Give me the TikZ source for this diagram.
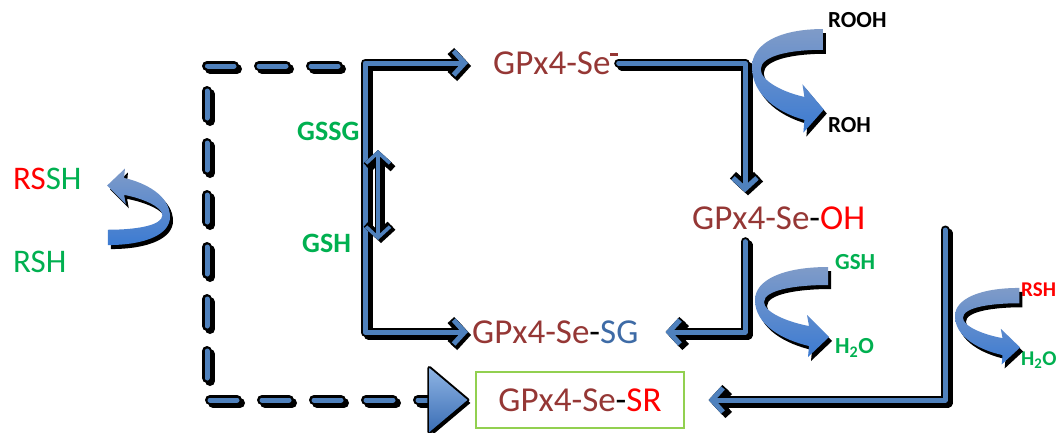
\documentclass[tikz,border=0pt]{standalone}
\usepackage{fontspec}
\setmainfont{Carlito}
\usetikzlibrary{arrows.meta,calc}
\definecolor{dred}{HTML}{953735}
\definecolor{grn}{HTML}{00B050}
\definecolor{lblue}{HTML}{4F81BD}
\definecolor{sgblue}{HTML}{3E6BA6}
\definecolor{boxgreen}{HTML}{92D050}
\definecolor{bandtop}{HTML}{7F9BC8}
\definecolor{bandbot}{HTML}{3C7BD2}
\definecolor{tritop}{HTML}{8EB4E3}
\definecolor{tribot}{HTML}{3A6DB5}
\tikzset{
  conn common/.style={line join=round, line cap=round, >={Straight Barb[length=11pt,width=24pt]}},
  lay shadow/.style={draw=black, line width=9pt, transform canvas={shift={(3,3)}}},
  lay outline/.style={draw=black, line width=9pt},
  lay blue/.style={draw=lblue, line width=5pt},
  thin shadow/.style={draw=black, line width=7pt, transform canvas={shift={(3,3)}}},
  thin outline/.style={draw=black, line width=7pt},
  thin blue/.style={draw=lblue, line width=3.5pt},
  dashpat/.style={dash pattern=on 27pt off 25pt, line cap=round},
  big/.style={inner sep=0pt, anchor=west, font=\fontsize{35}{40}\selectfont},
  mid/.style={inner sep=0pt, anchor=west, font=\fontsize{33}{38}\selectfont},
  lbold/.style={inner sep=0pt, anchor=west, font=\fontsize{28}{30}\selectfont\bfseries},
  sbold/.style={inner sep=0pt, anchor=west, font=\fontsize{23}{25}\selectfont\bfseries},
  xsbold/.style={inner sep=0pt, anchor=west, font=\fontsize{21}{23}\selectfont\bfseries},
  srbox/.style={draw=boxgreen, line width=1.2pt, minimum width=208pt, minimum height=56pt, inner sep=0pt, font=\fontsize{35}{40}\selectfont},
  pics/bandshadow/.style={code={\fill[black] \bandpath;}},
  pics/band/.style={code={\shade[top color=bandtop, bottom color=bandbot] \bandpath;}}
}
\def\bandpath{(73,-33) .. controls (28,-33) and (0,-20) .. (0,0) .. controls (0,25) and (28,40) .. (54,46) -- (53,57) -- (74,37) -- (52,15) -- (54,26) .. controls (32,22) and (9,12) .. (9,2) .. controls (9,-10) and (40,-15) .. (73,-15) -- cycle}
\newcommand\cnx[2]{%
  \draw[conn common, lay shadow, #1] #2;
  \draw[conn common, lay outline, #1] #2;
  \draw[conn common, lay blue, #1] #2;}
\newcommand\cnxthin[2]{%
  \draw[conn common, thin shadow, #1] #2;
  \draw[conn common, thin outline, #1] #2;
  \draw[conn common, thin blue, #1] #2;}
\begin{document}
\begin{tikzpicture}[x=1pt, y=-1pt]
\path[use as bounding box, fill=white] (0,0) rectangle (1058,432);

% text nodes
\node[big, text=dred] (sem) at (493,63) {GPx4-Se\raisebox{0.52em}{\rule{8pt}{2.6pt}}};
\node[big] (oh) at (692,218) {\textcolor{dred}{GPx4-Se}-\textcolor{red}{OH}};
\node[big] (sg) at (472,332) {\textcolor{dred}{GPx4-Se}-\textcolor{sgblue}{SG}};
\node[srbox] (sr) at (580,400) {\textcolor{dred}{GPx4-Se}-\textcolor{red}{SR}};
\node[mid] (rssh) at (13,179) {\textcolor{red}{RS}\textcolor{grn}{SH}};
\node[mid, text=grn] (rsh) at (13,262) {RSH};
\node[lbold, text=grn] (gssg) at (297,131) {GSSG};
\node[lbold, text=grn] (gshl) at (302,243) {GSH};
\node[sbold] (rooh) at (828,20) {ROOH};
\node[sbold] (roh) at (828,125) {ROH};
\node[sbold, text=grn] (gshr) at (835,262) {GSH};
\node[sbold, text=grn] (h2oa) at (835,348) {H\textsubscript{2}O};
\node[xsbold, text=red] (rshr) at (1021,290) {RSH};
\node[xsbold, text=grn] (h2ob) at (1021,360) {H\textsubscript{2}O};

% helper coordinates
\coordinate (bl) at (365,332);
\coordinate (tr) at (745,63);
\coordinate (rtop) at (945,230);
\coordinate (dstart) at (338,66);
\coordinate (dc) at (207,66);
\coordinate (dbt) at (378,150);
\coordinate (dbb) at (378,240);

% dashed connector
\draw[conn common, dashpat, draw=black, line width=10pt, transform canvas={shift={(3,3)}}, shorten >=46pt] (dstart) -- (dc) |- (sr.west);
\draw[conn common, dashpat, draw=black, line width=10pt, shorten >=46pt] (dstart) -- (dc) |- (sr.west);
\draw[conn common, dashpat, draw=lblue, line width=5pt, shorten >=46pt] (dstart) -- (dc) |- (sr.west);
\coordinate (tt) at ([xshift=-8pt]sr.west);
\fill[black] ($(tt)+(3,3)$) -- ($(tt)+(-35,-29)$) -- ($(tt)+(-35,35)$) -- cycle;
\draw[black, line width=4pt, line join=round] (tt) -- ($(tt)+(-38,-32)$) -- ($(tt)+(-38,32)$) -- cycle;
\shade[top color=tritop, bottom color=tribot, line join=round] (tt) -- ($(tt)+(-38,-32)$) -- ($(tt)+(-38,32)$) -- cycle;

% solid connectors
\cnx{<->, shorten <=25pt, shorten >=4pt}{(sem.west) -| (bl) -- (sg.west)}
\cnx{->, shorten >=14pt}{(sem.east) -| (oh.north -| tr)}
\cnx{->, shorten <=12pt, shorten >=27pt}{(oh.south -| tr) |- (sg.east)}
\cnx{->, shorten >=24pt}{(rtop) |- (sr.east)}
\cnxthin{<->}{(dbt) -- (dbb)}

% curved band arrows
\pic[xscale=0.97, yscale=1.15] at (755,71) {bandshadow};
\pic[xscale=0.97, yscale=1.15] at (752,67) {band};
\pic at (758,304) {bandshadow};
\pic at (755,300) {band};
\pic[xscale=0.88, yscale=0.85] at (958,320) {bandshadow};
\pic[xscale=0.88, yscale=0.85] at (955,316) {band};
\pic[rotate=180, scale=0.85] at (173,221) {bandshadow};
\pic[rotate=180, scale=0.85] at (170,217) {band};
\end{tikzpicture}
\end{document}
